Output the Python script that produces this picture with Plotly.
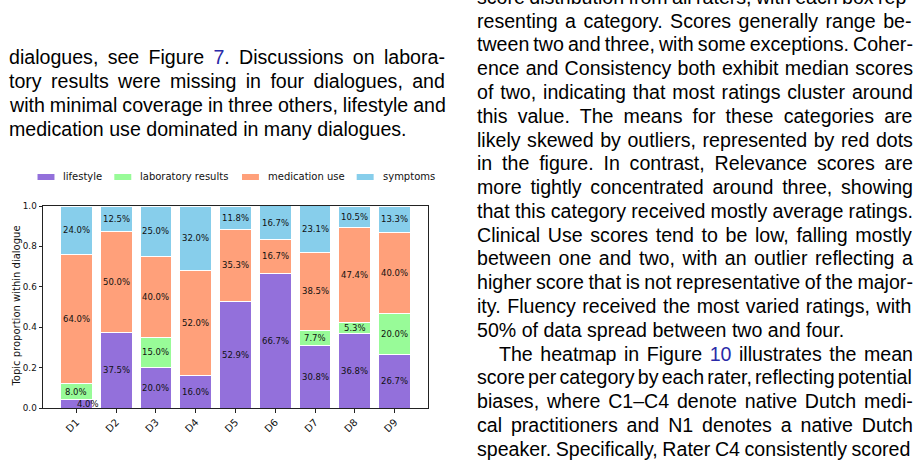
import plotly.graph_objects as go

# ---------------- data ----------------
dialogues = ["D1", "D2", "D3", "D4", "D5", "D6", "D7", "D8", "D9"]
topics = ["lifestyle", "laboratory results", "medication use", "symptoms"]
lifestyle = [4.0, 37.5, 20.0, 16.0, 52.9, 66.7, 30.8, 36.8, 26.7]
laboratory_results = [8.0, 0.0, 15.0, 0.0, 0.0, 0.0, 7.7, 5.3, 20.0]
medication_use = [64.0, 50.0, 40.0, 52.0, 35.3, 16.7, 38.5, 47.4, 40.0]
symptoms = [24.0, 12.5, 25.0, 32.0, 11.8, 16.7, 23.1, 10.5, 13.3]
series = [lifestyle, laboratory_results, medication_use, symptoms]
y_ticks = [0.0, 0.2, 0.4, 0.6, 0.8, 1.0]
y_title = "Topic proportion within dialogue"

colors = ["#9370DB", "#98FB98", "#FFA07A", "#87CEEB"]

# ---------------- geometry (pixels) ----------------
W, H = 924, 463
PL, PR, PT, PB = 42.5, 428.5, 206.0, 408.0


def px(xp):
    return (xp - PL) / (PR - PL)


def py(yp):
    return (PB - yp) / (PB - PT)


fig = go.Figure()
for name, vals, col in zip(topics, series, colors):
    fig.add_trace(go.Bar(
        x=dialogues, y=[v / 100 for v in vals], name=name,
        marker=dict(color=col, line=dict(color="white", width=1)),
        width=0.8, showlegend=False, hoverinfo="skip"))

# value labels inside segments
annotations = []
for i, d in enumerate(dialogues):
    base = 0.0
    for vals in series:
        v = vals[i]
        if v > 0:
            small = v < 5
            annotations.append(dict(
                x=d, y=(base + v / 200), xref="x", yref="y",
                text=f"{v:.1f}%", showarrow=False,
                xanchor="left" if small else "center",
                xshift=-1 if small else 0,
                font=dict(family="DejaVu Sans", size=8.5, color="#111")))
        base += v / 100

# y axis title
annotations.append(dict(x=px(15.5), y=py(306.5), xref="paper", yref="paper",
                        text=y_title, textangle=-90, showarrow=False,
                        xanchor="center", yanchor="middle",
                        font=dict(family="DejaVu Sans", size=10, color="#111")))

# custom legend (matplotlib style patches)
leg_patch_x = [37, 114, 242, 357]
leg_text_x = [62, 139, 267, 382]
leg_y = 177
shapes = []
for name, col, x0, xt in zip(topics, colors, leg_patch_x, leg_text_x):
    shapes.append(dict(type="rect", xref="paper", yref="paper",
                       x0=px(x0), x1=px(x0 + 17), y0=py(leg_y + 3), y1=py(leg_y - 3),
                       fillcolor=col, line=dict(width=0)))
    annotations.append(dict(x=px(xt - 1), y=py(leg_y - 0.5), xref="paper", yref="paper",
                            text=name, showarrow=False, xanchor="left", yanchor="middle",
                            font=dict(family="DejaVu Sans", size=10, color="#111")))

# ---------------- surrounding paper text ----------------
CW = {' ': 278, '!': 278, '"': 355, '#': 556, '$': 556, '%': 889, '&': 667, "'": 191,
      '(': 333, ')': 333, '*': 389, '+': 584, ',': 278, '-': 333, '.': 278, '/': 278,
      ':': 278, ';': 278, '?': 556, '–': 556,
      'A': 667, 'B': 667, 'C': 722, 'D': 722, 'E': 667, 'F': 611, 'G': 778, 'H': 722,
      'I': 278, 'J': 500, 'K': 667, 'L': 556, 'M': 833, 'N': 722, 'O': 778, 'P': 667,
      'Q': 778, 'R': 722, 'S': 667, 'T': 611, 'U': 722, 'V': 667, 'W': 944, 'X': 667,
      'Y': 667, 'Z': 611,
      'a': 556, 'b': 556, 'c': 500, 'd': 556, 'e': 556, 'f': 278, 'g': 556, 'h': 556,
      'i': 222, 'j': 222, 'k': 500, 'l': 222, 'm': 833, 'n': 556, 'o': 556, 'p': 556,
      'q': 556, 'r': 333, 's': 500, 't': 278, 'u': 556, 'v': 500, 'w': 722, 'x': 500,
      'y': 500, 'z': 500}
for ch in "0123456789":
    CW[ch] = 556

FS = 19.6
BLUE = "#2a2aa8"


def text_width(s):
    return sum(CW.get(c, 556) for c in s) * FS / 1000.0


def add_line(x0, yc, segs, target=None):
    # segs: list of (text, is_blue)
    plain = "".join(s for s, _ in segs)
    spacing = 0.0
    if target is not None:
        n = plain.count(" ")
        if n:
            spacing = (target - text_width(plain)) / n
    inner = ""
    for s, blue in segs:
        if blue:
            inner += f"<span style='color:{BLUE}'>{s}</span>"
        else:
            inner += s
    txt = f"<span style='word-spacing:{spacing:.2f}px'>{inner}</span>"
    annotations.append(dict(x=px(x0), y=py(yc - 1.5), xref="paper", yref="paper",
                            text=txt, showarrow=False, xanchor="left", yanchor="middle",
                            borderpad=0,
                            font=dict(family="Liberation Sans", size=FS, color="#000")))


left_lines = [
    ([("dialogues, see Figure ", False), ("7", True), (". Discussions on labora-", False)], True),
    ([("tory results were missing in four dialogues, and", False)], True),
    ([("with minimal coverage in three others, lifestyle and", False)], True),
    ([("medication use dominated in many dialogues.", False)], False),
]
left_y = [58.5, 82.5, 106.5, 130.5]
for (segs, just), yc in zip(left_lines, left_y):
    add_line(7, yc, segs, 436 if just else None)

right_lines = [
    ("score distribution from all raters, with each box rep-", True, 0),
    ("resenting a category. Scores generally range be-", True, 0),
    ("tween two and three, with some exceptions. Coher-", True, 0),
    ("ence and Consistency both exhibit median scores", True, 0),
    ("of two, indicating that most ratings cluster around", True, 0),
    ("this value. The means for these categories are", True, 0),
    ("likely skewed by outliers, represented by red dots", True, 0),
    ("in the figure. In contrast, Relevance scores are", True, 0),
    ("more tightly concentrated around three, showing", True, 0),
    ("that this category received mostly average ratings.", True, 0),
    ("Clinical Use scores tend to be low, falling mostly", True, 0),
    ("between one and two, with an outlier reflecting a", True, 0),
    ("higher score that is not representative of the major-", True, 0),
    ("ity. Fluency received the most varied ratings, with", True, 0),
    ("50% of data spread between two and four.", False, 0),
    ("The heatmap in Figure |10| illustrates the mean", True, 22),
    ("score per category by each rater, reflecting potential", True, 0),
    ("biases, where C1–C4 denote native Dutch medi-", True, 0),
    ("cal practitioners and N1 denotes a native Dutch", True, 0),
    ("speaker. Specifically, Rater C4 consistently scored", True, 0),
]
for k, (line, just, indent) in enumerate(right_lines):
    parts = line.split("|")
    segs = [(p, j % 2 == 1) for j, p in enumerate(parts) if p]
    yc = -1.6 + 23.78 * k
    add_line(477 + indent, yc, segs, (436 - indent) if just else None)

fig.update_layout(
    width=W, height=H,
    margin=dict(l=PL, r=W - PR, t=PT, b=H - PB, pad=0),
    paper_bgcolor="white", plot_bgcolor="white",
    barmode="stack", bargap=0.2,
    showlegend=False,
    font=dict(family="DejaVu Sans", color="#111"),
    annotations=annotations, shapes=shapes,
    xaxis=dict(range=[-0.84, 8.84], showline=True, mirror=True, linecolor="#222",
               linewidth=1, ticks="outside", ticklen=3.5, tickcolor="#222",
               tickangle=-45, tickfont=dict(size=10, family="DejaVu Sans", color="#111"),
               showgrid=False, zeroline=False, automargin=False),
    yaxis=dict(range=[0, 1], showline=True, mirror=True, linecolor="#222",
               linewidth=1, ticks="outside", ticklen=3.5, tickcolor="#222",
               tickvals=y_ticks, tickformat=".1f",
               tickfont=dict(size=8.8, family="DejaVu Sans", color="#111"),
               showgrid=False, zeroline=False, automargin=False),
)

fig.write_html("out.html")
